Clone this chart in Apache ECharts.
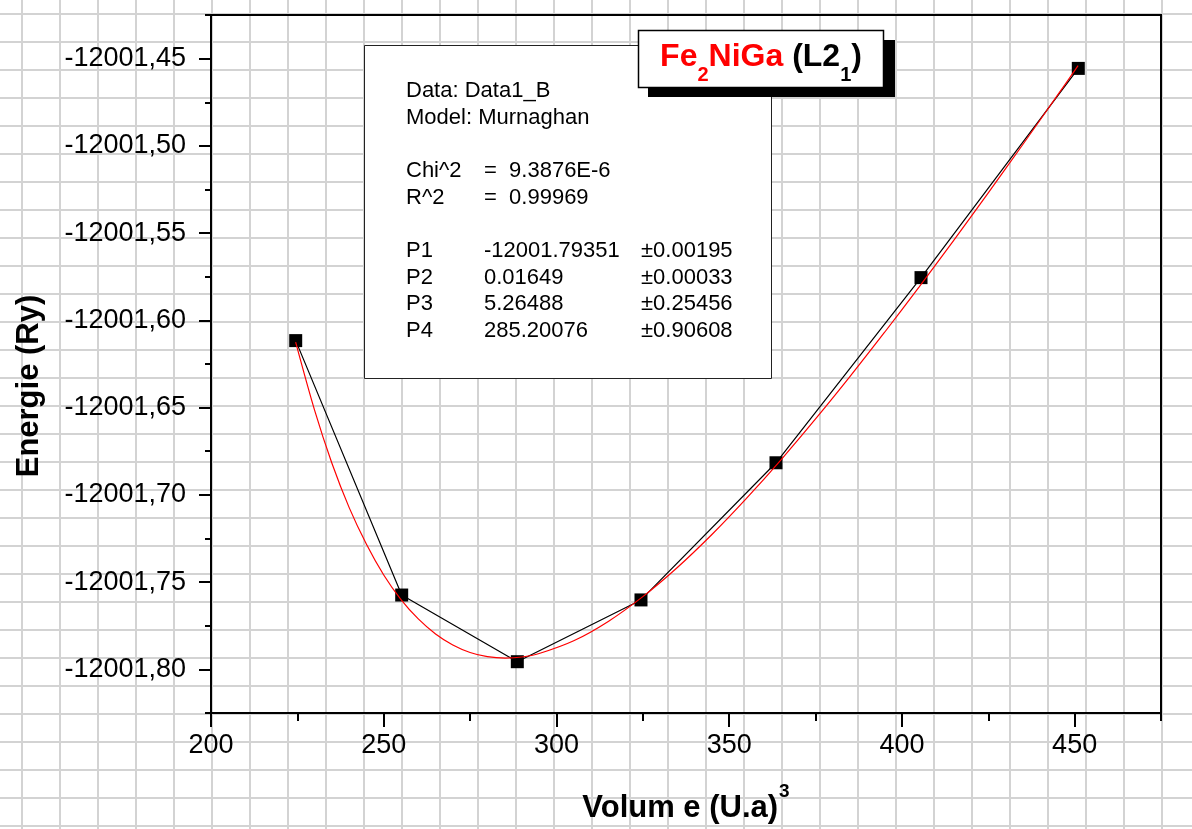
<!DOCTYPE html>
<html><head><meta charset="utf-8">
<script src="https://cdn.jsdelivr.net/npm/echarts@6/dist/echarts.min.js"></script>
<style>
html,body{margin:0;padding:0;background:#fff;}
#chart{width:1192px;height:829px;background-color:#fff;
background-image:linear-gradient(to right,#d3d3d3 2px,transparent 2px),linear-gradient(to bottom,#d3d3d3 2px,transparent 2px);
background-size:38px 28px;background-position:21px 13px;}
</style></head><body><div id="chart"></div>
<script>
// ---- data ----
const volumes = [224.52, 255.2, 288.67, 324.47, 363.55, 405.53, 451.06];
const energies = [-12001.6116, -12001.7574, -12001.7956, -12001.7602, -12001.6816, -12001.5755, -12001.4556];
const fitVolumes = [224.5, 230, 235, 240, 245, 250, 255, 260, 265, 270, 275, 280, 285.2, 290, 295, 305, 315, 325, 335, 345, 355, 365, 375, 385, 395, 405, 415, 425, 435, 445, 451];
const fitEnergies = [-12001.6125, -12001.6516, -12001.6819, -12001.7073, -12001.7283, -12001.7459, -12001.7600, -12001.7711, -12001.7797, -12001.7860, -12001.7903, -12001.7927, -12001.7935, -12001.7929, -12001.7909, -12001.7836, -12001.7725, -12001.7583, -12001.7416, -12001.7227, -12001.7020, -12001.6799, -12001.6565, -12001.6321, -12001.6068, -12001.5808, -12001.5541, -12001.5269, -12001.4992, -12001.4711, -12001.4540];
const xMajorTicks = [200, 250, 300, 350, 400, 450];
const xMinorTicks = [225, 275, 325, 375, 425, 475];
const yMajorTicks = [-12001.45, -12001.50, -12001.55, -12001.60, -12001.65, -12001.70, -12001.75, -12001.80];
const yMinorTicks = [-12001.425, -12001.475, -12001.525, -12001.575, -12001.625, -12001.675, -12001.725, -12001.775, -12001.825];
const fitInfo = ['Data: Data1_B', 'Model: Murnaghan'];
const fitStats = [['Chi^2', '=  9.3876E-6'], ['R^2', '=  0.99969']];
const fitParams = [['P1', '-12001.79351', '±0.00195'], ['P2', '0.01649', '±0.00033'], ['P3', '5.26488', '±0.25456'], ['P4', '285.20076', '±0.90608']];
const yTitle = 'Energie (Ry)';
const xTitle = 'Volum e (U.a)';

// ---- chart ----
const FONT = '"Liberation Sans", Arial, sans-serif';
const chart = echarts.init(document.getElementById('chart'), null, {renderer: 'canvas'});

const statText = (text, x, y) => ({
  type: 'text', x: x, y: y, z: 100,
  style: {text: text, font: '22px ' + FONT, fill: '#000', verticalAlign: 'middle', align: 'left'}
});
const statsGraphics = [];
statsGraphics.push({type: 'rect', shape: {x: 364.5, y: 45.5, width: 407, height: 333}, z: 90,
  style: {fill: '#fff', stroke: '#222', lineWidth: 1}});
fitInfo.forEach((t, i) => statsGraphics.push(statText(t, 406, 91 + i * 26.6)));
fitStats.forEach((r, i) => {
  statsGraphics.push(statText(r[0], 406, 171 + i * 26.6));
  statsGraphics.push(statText(r[1], 484, 171 + i * 26.6));
});
fitParams.forEach((r, i) => {
  statsGraphics.push(statText(r[0], 406, 251 + i * 26.6));
  statsGraphics.push(statText(r[1], 484, 251 + i * 26.6));
  statsGraphics.push(statText(r[2], 641, 251 + i * 26.6));
});

const titleGraphics = [
  {type: 'rect', shape: {x: 648, y: 40, width: 247, height: 57}, z: 110, style: {fill: '#000'}},
  {type: 'rect', shape: {x: 638.5, y: 30.5, width: 245, height: 57}, z: 111, style: {fill: '#fff', stroke: '#000', lineWidth: 1.5}},
  {type: 'text', x: 761, y: 61, z: 112,
    style: {
      text: '{r|Fe}{rs|2}{r|NiGa}{k| (L2}{ks|1}{k|)}',
      align: 'center', verticalAlign: 'middle',
      rich: {
        r: {fontFamily: FONT, fontWeight: 'bold', fontSize: 32, fill: '#ff0000', lineHeight: 40, verticalAlign: 'top'},
        rs: {fontFamily: FONT, fontWeight: 'bold', fontSize: 20, fill: '#ff0000', lineHeight: 20, padding: [24, 0, 0, 0], verticalAlign: 'top'},
        k: {fontFamily: FONT, fontWeight: 'bold', fontSize: 32, fill: '#000', lineHeight: 40, verticalAlign: 'top'},
        ks: {fontFamily: FONT, fontWeight: 'bold', fontSize: 20, fill: '#000', lineHeight: 20, padding: [24, 0, 0, 0], verticalAlign: 'top'}
      }
    }
  }
];

const axisLineStyle = {color: '#000', width: 2};
const option = {
  animation: false,
  grid: {left: 211, right: 31, top: 15, bottom: 116, show: true, borderColor: '#000', borderWidth: 2,
    backgroundColor: 'transparent', containLabel: false, outerBoundsMode: 'none'},
  xAxis: [
    {
      type: 'value', min: 200, max: 475, position: 'bottom',
      axisLine: {show: true, lineStyle: axisLineStyle},
      axisTick: {show: true, customValues: xMajorTicks, length: 14, lineStyle: {color: '#000', width: 2}},
      axisLabel: {customValues: xMajorTicks, fontSize: 27, fontFamily: FONT, color: '#000', margin: 19},
      splitLine: {show: false},
      name: '{m|' + xTitle + '}{sup|3}', nameLocation: 'middle', nameGap: 75,
      nameTextStyle: {rich: {
        m: {fontFamily: FONT, fontWeight: 'bold', fontSize: 31, color: '#000', lineHeight: 40, verticalAlign: 'middle'},
        sup: {fontFamily: FONT, fontWeight: 'bold', fontSize: 19, color: '#000', lineHeight: 19, padding: [0, 0, 33, 1], verticalAlign: 'middle'}
      }}
    },
    {
      type: 'value', min: 200, max: 475, position: 'bottom',
      axisLine: {show: false},
      axisTick: {show: true, customValues: xMinorTicks, length: 8, lineStyle: {color: '#000', width: 2}},
      axisLabel: {show: false}, splitLine: {show: false}
    }
  ],
  yAxis: [
    {
      type: 'value', min: -12001.825, max: -12001.425, position: 'left',
      axisLine: {show: true, lineStyle: axisLineStyle},
      axisTick: {show: true, customValues: yMajorTicks, length: 12, lineStyle: {color: '#000', width: 2}},
      axisLabel: {customValues: yMajorTicks, fontSize: 27, fontFamily: FONT, color: '#000', margin: 25,
        formatter: v => v.toFixed(2).replace('.', ',')},
      splitLine: {show: false},
      name: yTitle, nameLocation: 'middle', nameGap: 166,
      nameTextStyle: {fontFamily: FONT, fontWeight: 'bold', fontSize: 31, color: '#000', padding: [0, 44, 0, 0]}
    },
    {
      type: 'value', min: -12001.825, max: -12001.425, position: 'left',
      axisLine: {show: false},
      axisTick: {show: true, customValues: yMinorTicks, length: 6, lineStyle: {color: '#000', width: 2}},
      axisLabel: {show: false}, splitLine: {show: false}
    }
  ],
  series: [
    {
      name: 'Data1_B', type: 'line', xAxisIndex: 0, yAxisIndex: 0,
      data: volumes.map((v, i) => [v, energies[i]]),
      symbol: 'rect', symbolSize: 13, showSymbol: true,
      lineStyle: {color: '#000', width: 1.2}, itemStyle: {color: '#000'}, z: 3
    },
    {
      name: 'Murnaghan fit', type: 'line', xAxisIndex: 0, yAxisIndex: 0,
      data: fitVolumes.map((v, i) => [v, fitEnergies[i]]),
      symbol: 'none', smooth: 0.3,
      lineStyle: {color: '#ff0000', width: 1.2}, z: 4
    }
  ],
  graphic: statsGraphics.concat(titleGraphics)
};
chart.setOption(option);
</script></body></html>
